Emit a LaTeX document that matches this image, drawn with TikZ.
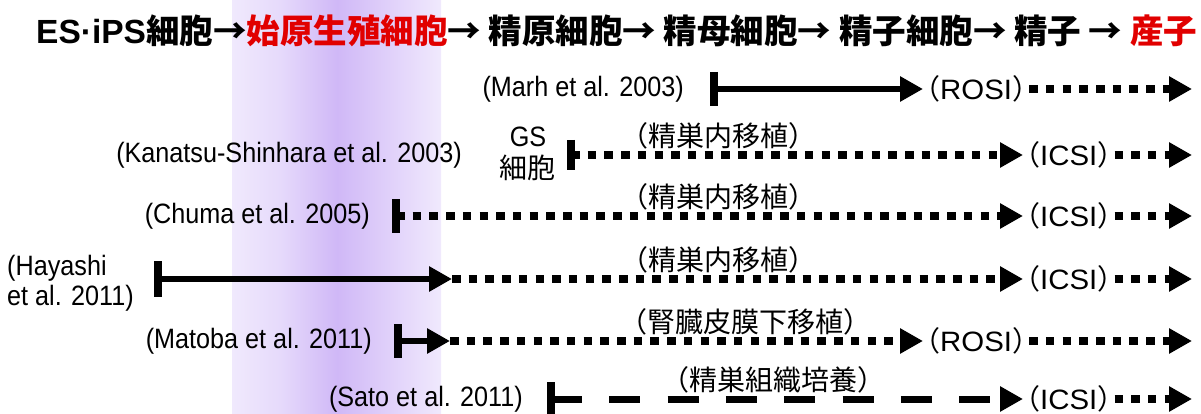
\documentclass[tikz,border=0pt]{standalone}
\usepackage{fontspec}
\setmainfont{Liberation Sans}
\newfontfamily\jp{Noto Sans CJK JP}
\newfontfamily\lat{Liberation Sans}
\newfontfamily\latn{Liberation Sans}[FakeStretch=0.9]
\newfontfamily\latw{Liberation Sans}[FakeStretch=1.05]
\usetikzlibrary{arrows.meta}
\definecolor{myred}{RGB}{225,0,0}
\definecolor{lavL}{RGB}{240,233,253}
\definecolor{lavM}{RGB}{230,218,251}
\definecolor{lavD}{RGB}{208,184,247}
\newcommand{\tiptext}[1]{{\jp （}{\latw #1}{\jp ）}}
\tikzset{
  lab/.style={inner sep=0pt, font=\latn\fontsize{28}{30}\selectfont},
  jlab/.style={inner sep=0pt, font=\jp\fontsize{28}{30}\selectfont},
  tiplab/.style={inner sep=0pt, anchor=west, xshift=-11pt, font=\fontsize{28}{30}\selectfont},
  vbar/.style={line width=8pt},
  arrtip/.style={-{Triangle[length=23pt,width=24pt]}},
  solidarr/.style={line width=6.5pt, arrtip},
  dotarr/.style={line width=8pt, dash pattern=on 8.5pt off 8.2pt, arrtip},
  dasharr/.style={line width=7pt, dash pattern=on 31pt off 27.3pt, arrtip},
}
\begin{document}
\begin{tikzpicture}[x=1pt,y=-1pt]
\useasboundingbox (0,0) rectangle (1201,414);
% background band
\shade[left color=lavL, right color=lavM] (232,0) rectangle (280,414);
\shade[left color=lavM, right color=lavD] (280,0) rectangle (337,414);
\shade[left color=lavD, right color=lavL] (337,0) rectangle (441,414);
% header
\node[anchor=base west, inner sep=0pt, font=\fontsize{33.5}{36}\selectfont\bfseries] (hdr) at (36,44)
  {{\lat ES·iPS}{\jp 細胞→\textcolor{myred}{始原生殖細胞}→ 精原細胞→ 精母細胞→ 精子細胞→ 精子 → \textcolor{myred}{産子}}};

% row 1 : Marh
\node[lab, anchor=east] (marh) at (684,89) {(Marh et al. 2003)};
\coordinate (b1) at (713.5,89);
\coordinate (t1) at (923,89);
\coordinate (e1) at (1192,89);
\draw[vbar] ([yshift=17pt]b1) -- ([yshift=-17pt]b1);
\draw[solidarr] (b1) -- (t1);
\node[tiplab] (rosi1) at (t1) {\tiptext{ROSI}};
\coordinate (s1) at ([xshift=-11pt]rosi1.east);
\draw[dotarr] (s1) -- (e1);

% row 2 : Kanatsu-Shinhara
\node[lab, anchor=east] (kan) at (462,155) {(Kanatsu-Shinhara et al. 2003)};
\node[lab] (gs) at (528,137) {GS};
\node[jlab] (gscell) at (527,168) {細胞};
\coordinate (b2) at (571,155);
\coordinate (t2) at (1023,155);
\coordinate (e2) at (1192,155);
\draw[vbar] ([yshift=15pt]b2) -- ([yshift=-15pt]b2);
\draw[dotarr] (b2) -- (t2);
\node[jlab] (m2) at (718,136) {（精巣内移植）};
\node[tiplab] (icsi2) at (t2) {\tiptext{ICSI}};
\coordinate (s2) at ([xshift=-11pt]icsi2.east);
\draw[dotarr] (s2) -- (e2);

% row 3 : Chuma
\node[lab, anchor=east] (chu) at (370,216) {(Chuma et al. 2005)};
\coordinate (b3) at (396,216);
\coordinate (t3) at (1023,216);
\coordinate (e3) at (1192,216);
\draw[vbar] ([yshift=17pt]b3) -- ([yshift=-17pt]b3);
\draw[dotarr] (b3) -- (t3);
\node[jlab] (m3) at (718,197) {（精巣内移植）};
\node[tiplab] (icsi3) at (t3) {\tiptext{ICSI}};
\coordinate (s3) at ([xshift=-11pt]icsi3.east);
\draw[dotarr] (s3) -- (e3);

% row 4 : Hayashi
\node[lab, anchor=west, align=left] (hay) at (7,283) {(Hayashi\\et al. 2011)};
\coordinate (b4) at (158,279);
\coordinate (p4) at (452,279);
\coordinate (t4) at (1023,279);
\coordinate (e4) at (1192,279);
\draw[vbar] ([yshift=18pt]b4) -- ([yshift=-18pt]b4);
\draw[solidarr] (b4) -- (p4);
\draw[dotarr] (p4) -- (t4);
\node[jlab] (m4) at (718,260) {（精巣内移植）};
\node[tiplab] (icsi4) at (t4) {\tiptext{ICSI}};
\coordinate (s4) at ([xshift=-11pt]icsi4.east);
\draw[dotarr] (s4) -- (e4);

% row 5 : Matoba
\node[lab, anchor=east] (mat) at (372,341) {(Matoba et al. 2011)};
\coordinate (b5) at (398,341);
\coordinate (p5) at (450,341);
\coordinate (t5) at (923,341);
\coordinate (e5) at (1192,341);
\draw[vbar] ([yshift=17pt]b5) -- ([yshift=-17pt]b5);
\draw[solidarr] (b5) -- (p5);
\draw[dotarr] (p5) -- (t5);
\node[jlab] (m5) at (745,322) {（腎臓皮膜下移植）};
\node[tiplab] (rosi5) at (t5) {\tiptext{ROSI}};
\coordinate (s5) at ([xshift=-11pt]rosi5.east);
\draw[dotarr] (s5) -- (e5);

% row 6 : Sato
\node[lab, anchor=east] (sat) at (523,399) {(Sato et al. 2011)};
\coordinate (b6) at (551,399);
\coordinate (t6) at (1023,399);
\coordinate (e6) at (1192,399);
\draw[vbar] ([yshift=17pt]b6) -- ([yshift=-17pt]b6);
\draw[dasharr] (b6) -- (t6);
\node[jlab] (m6) at (773,380) {（精巣組織培養）};
\node[tiplab] (icsi6) at (t6) {\tiptext{ICSI}};
\coordinate (s6) at ([xshift=-11pt]icsi6.east);
\draw[dotarr] (s6) -- (e6);
\end{tikzpicture}
\end{document}
